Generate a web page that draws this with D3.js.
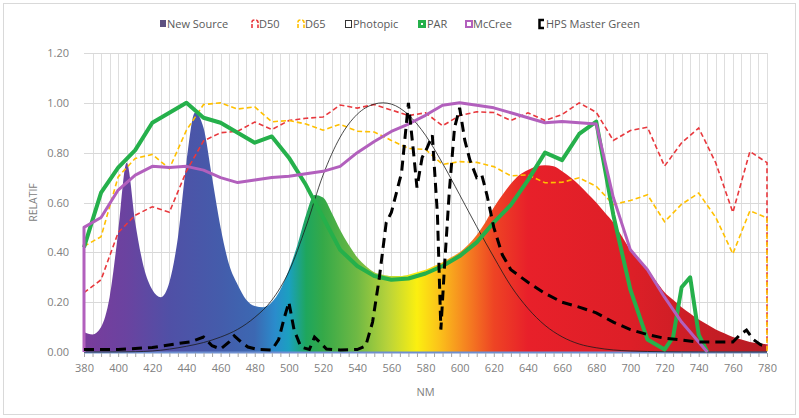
<!DOCTYPE html>
<html><head><meta charset="utf-8">
<script src="https://cdn.jsdelivr.net/npm/d3@7"></script>
<style>
html,body{margin:0;padding:0;background:#fff;}
svg{display:block;font-family:"Open Sans","Liberation Sans",sans-serif;}
</style></head>
<body><svg id="c" width="799" height="418"></svg>
<script>
// ---------------- DATA ----------------
const xTicks = [380,400,420,440,460,480,500,520,540,560,580,600,620,640,660,680,700,720,740,760,780];
const yTicks = [0,0.2,0.4,0.6,0.8,1.0,1.2];
const seriesNames = ["New Source","D50","D65","Photopic","PAR","McCree","HPS Master Green"];

const newSourceNm = [380,385,390,395,400,405,410,415,420,425,430,435,440,445,450,455,460,465,470,475,480,485,490,495,500,505,510,515,520,525,530,535,540,545,550,555,560,565,570,575,580,585,590,595,600,605,610,615,620,625,630,635,640,645,650,655,660,665,670,675,680,685,690,695,700,705,710,715,720,725,730,735,740,745,750,755,760,765,770,775,780];
const newSource = [0.08,0.07,0.10,0.22,0.48,0.76,0.52,0.34,0.25,0.22,0.28,0.46,0.76,0.96,0.90,0.70,0.50,0.35,0.27,0.21,0.185,0.18,0.20,0.25,0.33,0.43,0.55,0.63,0.62,0.56,0.49,0.43,0.38,0.345,0.32,0.31,0.305,0.305,0.31,0.32,0.33,0.345,0.36,0.38,0.40,0.43,0.47,0.52,0.58,0.63,0.675,0.71,0.73,0.745,0.75,0.745,0.725,0.70,0.67,0.635,0.60,0.56,0.52,0.465,0.41,0.37,0.33,0.285,0.24,0.21,0.18,0.155,0.13,0.11,0.09,0.075,0.06,0.05,0.04,0.035,0.03];

const d50Nm = [380,390,400,410,420,430,440,450,460,470,480,490,500,510,520,530,540,550,560,570,580,590,600,610,620,630,640,650,660,670,680,690,700,710,720,730,740,750,760,770,780,780];
const d50 = [0.238,0.29,0.479,0.549,0.583,0.561,0.726,0.847,0.88,0.886,0.923,0.893,0.929,0.938,0.943,0.991,0.979,0.993,0.971,0.949,0.96,0.908,0.949,0.964,0.961,0.929,0.96,0.929,0.953,1.0,0.962,0.849,0.889,0.902,0.746,0.84,0.899,0.759,0.56,0.805,0.76,0];

const d65Nm = d50Nm;
const d65 = [0.424,0.463,0.703,0.777,0.793,0.736,0.89,0.993,1.0,0.975,0.984,0.924,0.929,0.915,0.89,0.914,0.886,0.883,0.849,0.817,0.813,0.753,0.764,0.761,0.744,0.707,0.711,0.679,0.681,0.699,0.665,0.592,0.608,0.631,0.523,0.593,0.638,0.54,0.394,0.567,0.538,0];

const photopicNm = [380,390,400,410,420,430,440,450,460,470,480,490,500,510,520,530,540,550,555,560,570,580,590,600,610,620,630,640,650,660,670,680,690,700,710,720,730,740,750,760,770,780];
const photopic = [0.00004,0.00012,0.0004,0.0012,0.004,0.0116,0.023,0.038,0.06,0.091,0.139,0.208,0.323,0.503,0.71,0.862,0.954,0.995,1.0,0.995,0.952,0.87,0.757,0.631,0.503,0.381,0.265,0.175,0.107,0.061,0.032,0.017,0.0082,0.0041,0.0021,0.001,0.0005,0.00025,0.00012,0.00006,0.00003,0.000015];

const parNm = [380,390,400,410,420,430,440,450,460,470,480,490,500,510,520,530,540,550,560,570,580,590,600,610,620,630,640,650,660,670,680,690,700,710,720,725,730,735,740,745];
const par = [0.42,0.64,0.74,0.81,0.92,0.96,1.00,0.94,0.92,0.88,0.84,0.865,0.78,0.67,0.54,0.41,0.345,0.305,0.29,0.295,0.315,0.345,0.385,0.44,0.52,0.59,0.69,0.80,0.77,0.875,0.925,0.55,0.25,0.05,0.01,0.06,0.26,0.30,0.07,0.0];

const mccreeNm = [380,380,390,400,410,420,430,440,450,460,470,480,490,500,510,520,530,540,550,560,570,580,590,600,610,620,630,640,650,660,670,680,690,700,710,720,730,740,745];
const mccree = [0,0.50,0.54,0.65,0.71,0.745,0.74,0.745,0.73,0.70,0.68,0.69,0.70,0.705,0.715,0.725,0.745,0.80,0.845,0.885,0.915,0.95,0.99,1.0,0.99,0.98,0.96,0.94,0.92,0.925,0.92,0.915,0.62,0.41,0.33,0.22,0.12,0.04,0.0];

const hpsNm = [380,400,420,436,442,446,450,455,460,465,468,472,476,482,490,494,497,500,503,507,512,515,518,522,530,540,545,549,553,557,560,563,566,570,573,575,578,581,584,587,589,591,594,597,600,603,606,610,613,616,620,625,630,640,650,660,670,680,690,700,710,720,730,740,750,760,764,768,772,776,780];
const hps = [0.01,0.01,0.018,0.035,0.04,0.05,0.06,0.025,0.012,0.04,0.065,0.04,0.02,0.01,0.008,0.05,0.13,0.20,0.09,0.02,0.01,0.06,0.04,0.012,0.008,0.01,0.025,0.12,0.30,0.52,0.56,0.64,0.72,1.0,0.80,0.66,0.78,0.82,0.87,0.55,0.09,0.33,0.65,0.90,0.98,0.85,0.77,0.70,0.71,0.63,0.50,0.39,0.33,0.28,0.235,0.20,0.18,0.157,0.12,0.09,0.07,0.055,0.048,0.04,0.04,0.04,0.068,0.088,0.05,0.03,0.02];

// ---------------- CHART ----------------
const svg = d3.select("#c");
const W = 799, H = 418;
const x = d3.scaleLinear().domain([380,780]).range([84,767]);
const y = d3.scaleLinear().domain([0,1.2]).range([352,53]);
const textCol = "#808080";

// outer border
svg.append("rect").attr("x",3.5).attr("y",3.5).attr("width",W-7).attr("height",H-7)
  .attr("fill","#fff").attr("stroke","#d9d9d9").attr("stroke-width",1);

// gridlines
const g = svg.append("g");
g.selectAll(".vg").data(d3.range(385,781,5)).join("line")
  .attr("x1",d=>Math.round(x(d))+0.5).attr("x2",d=>Math.round(x(d))+0.5)
  .attr("y1",y(1.2)).attr("y2",y(0)).attr("stroke","#dedede").attr("stroke-width",1);
g.selectAll(".hg").data(yTicks.slice(1)).join("line")
  .attr("x1",x(380)).attr("x2",x(780))
  .attr("y1",d=>Math.round(y(d))+0.5).attr("y2",d=>Math.round(y(d))+0.5)
  .attr("stroke","#d9d9d9").attr("stroke-width",1);

// gradient for New Source
const defs = svg.append("defs");
const grad = defs.append("linearGradient").attr("id","spec")
  .attr("gradientUnits","userSpaceOnUse")
  .attr("x1",x(380)).attr("x2",x(780)).attr("y1",0).attr("y2",0);
const stops = [[380,"#7a3c9c"],[405,"#6a43a0"],[430,"#5050a6"],[460,"#445cab"],[480,"#3c68b2"],[492,"#2a8ccc"],[500,"#1ba0c0"],[510,"#1ea65e"],[520,"#35a948"],[540,"#6fb944"],[558,"#b8d33a"],[575,"#fbef10"],[588,"#fbc21a"],[602,"#f68a20"],[620,"#ee4424"],[640,"#e8202a"],[700,"#dd1f27"],[780,"#b51c24"]];
stops.forEach(s=>grad.append("stop").attr("offset",((s[0]-380)/400*100)+"%").attr("stop-color",s[1]));

const area = d3.area().x(d=>x(d[0])).y0(y(0)).y1(d=>y(d[1])).curve(d3.curveMonotoneX);
svg.append("path").datum(newSourceNm.map((n,i)=>[n,newSource[i]]))
  .attr("d",area).attr("fill","url(#spec)");

// axis baseline
svg.append("line").attr("x1",x(380)).attr("x2",x(780)).attr("y1",y(0)+0.5).attr("y2",y(0)+0.5)
  .attr("stroke","#6f8fd0").attr("stroke-width",2);

// x axis ticks and labels
const xAxis = d3.axisBottom(x).tickValues(d3.range(380,781,5)).tickSize(4)
  .tickFormat(d=> xTicks.includes(d) ? d : "");
const xa = svg.append("g").attr("transform",`translate(0,${y(0)+1})`).call(xAxis);
xa.select(".domain").remove();
xa.selectAll(".tick line").attr("stroke","#a6a6a6");
xa.selectAll("text").attr("fill",textCol).attr("font-size",11).attr("dy","1.05em")
  .attr("font-family","'Open Sans',sans-serif");

// y axis labels
const yAxis = d3.axisLeft(y).tickValues(yTicks).tickSize(0).tickFormat(d3.format(".2f"));
const ya = svg.append("g").attr("transform",`translate(${x(380)-12},0)`).call(yAxis);
ya.select(".domain").remove();
ya.selectAll("text").attr("fill",textCol).attr("font-size",11).attr("font-family","'Open Sans',sans-serif");

// axis titles
svg.append("text").attr("transform",`translate(37,${y(0.6)}) rotate(-90)`).attr("text-anchor","middle")
  .attr("fill",textCol).attr("font-size",10.5).text("RELATIF");
svg.append("text").attr("x",(x(380)+x(780))/2).attr("y",396).attr("text-anchor","middle")
  .attr("fill",textCol).attr("font-size",11).text("NM");

// lines
const line = d3.line().x(d=>x(d[0])).y(d=>y(d[1]));
const pairs = (a,b)=>a.map((n,i)=>[n,b[i]]);

svg.append("path").datum(pairs(d50Nm,d50)).attr("d",line).attr("fill","none")
  .attr("stroke","#e8383d").attr("stroke-width",1.6).attr("stroke-dasharray","5,3");
svg.append("path").datum(pairs(d65Nm,d65)).attr("d",line).attr("fill","none")
  .attr("stroke","#ffc000").attr("stroke-width",1.6).attr("stroke-dasharray","5,3");
svg.append("path").datum(pairs(photopicNm,photopic)).attr("d",line.curve(d3.curveMonotoneX)).attr("fill","none")
  .attr("stroke","#1a1a1a").attr("stroke-width",0.8);
line.curve(d3.curveLinear);
svg.append("path").datum(pairs(parNm,par)).attr("d",line).attr("fill","none")
  .attr("stroke","#25b04b").attr("stroke-width",4).attr("stroke-linejoin","round");
svg.append("path").datum(pairs(mccreeNm,mccree)).attr("d",line).attr("fill","none")
  .attr("stroke","#b260bd").attr("stroke-width",3).attr("stroke-linejoin","round");
svg.append("path").datum(pairs(hpsNm,hps)).attr("d",line).attr("fill","none")
  .attr("stroke","#000").attr("stroke-width",3).attr("stroke-dasharray","10,6");

// legend
const lg = svg.append("g").attr("font-size",11).attr("fill","#595959");
const ly = 24;
const items = [
  {x:160,name:seriesNames[0]},{x:251,name:seriesNames[1]},{x:297,name:seriesNames[2]},
  {x:345,name:seriesNames[3]},{x:418,name:seriesNames[4]},{x:465,name:seriesNames[5]},{x:538,name:seriesNames[6]}];
// icons
lg.append("rect").attr("x",items[0].x).attr("y",ly-4).attr("width",6).attr("height",7).attr("fill","#5c5080");
lg.append("path").attr("d",`M${items[1].x+1},${ly+4}V${ly-2}Q${items[1].x+1},${ly-4} ${items[1].x+4},${ly-4}Q${items[1].x+7},${ly-4} ${items[1].x+7},${ly-2}V${ly+4}`)
  .attr("fill","none").attr("stroke","#e8383d").attr("stroke-width",1.6).attr("stroke-dasharray","4,1.5");
lg.append("path").attr("d",`M${items[2].x+1},${ly+4}V${ly-2}Q${items[2].x+1},${ly-4} ${items[2].x+4},${ly-4}Q${items[2].x+7},${ly-4} ${items[2].x+7},${ly-2}V${ly+4}`)
  .attr("fill","none").attr("stroke","#ffc000").attr("stroke-width",1.6).attr("stroke-dasharray","4,1.5");
lg.append("rect").attr("x",items[3].x+0.5).attr("y",ly-3.5).attr("width",6).attr("height",7).attr("fill","none").attr("stroke","#333").attr("stroke-width",1);
lg.append("rect").attr("x",items[4].x).attr("y",ly-4).attr("width",8).attr("height",8).attr("fill","#25b04b");
lg.append("rect").attr("x",items[4].x+3).attr("y",ly-1).attr("width",2).attr("height",2).attr("fill","#fff");
lg.append("rect").attr("x",items[5].x+1).attr("y",ly-3).attr("width",6).attr("height",6).attr("fill","#fff").attr("stroke","#b260bd").attr("stroke-width",2);
lg.append("path").attr("d",`M${items[6].x+6},${ly-4}H${items[6].x+1.5}V${ly+4}H${items[6].x+6}`).attr("fill","none").attr("stroke","#000").attr("stroke-width",2.5);
items.forEach((it,i)=>{
  lg.append("text").attr("x",it.x+ (i===0?7: i===4?9: 8)).attr("y",ly+4).text(it.name);
});
</script></body></html>
